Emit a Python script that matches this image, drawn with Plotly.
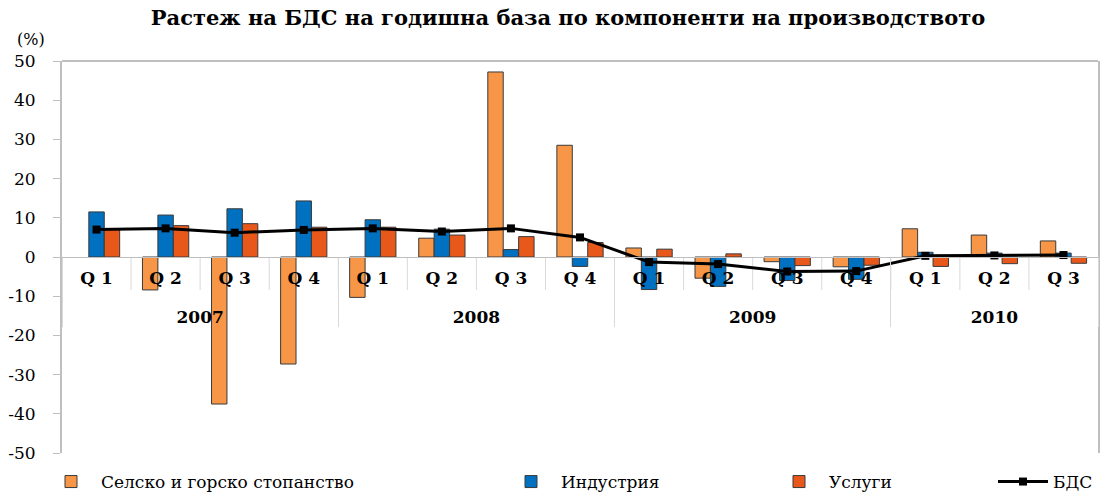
import plotly.graph_objects as go

years = ["2007"] * 4 + ["2008"] * 4 + ["2009"] * 4 + ["2010"] * 3
quarters = ["Q 1", "Q 2", "Q 3", "Q 4",
            "Q 1", "Q 2", "Q 3", "Q 4",
            "Q 1", "Q 2", "Q 3", "Q 4",
            "Q 1", "Q 2", "Q 3"]

agriculture = [None, -8.4, -37.5, -27.3, -10.3, 4.8, 47.2, 28.5, 2.3, -5.4, -1.2, -2.5, 7.2, 5.6, 4.1]
industry = [11.5, 10.7, 12.3, 14.3, 9.5, 7.1, 1.9, -2.4, -8.3, -7.5, -6.0, -5.7, 1.2, 1.0, 1.0]
services = [7.0, 8.0, 8.5, 7.6, 7.6, 5.6, 5.2, 3.7, 2.0, 0.8, -2.2, -2.1, -2.4, -1.7, -1.6]
gdp = [7.0, 7.3, 6.2, 6.9, 7.3, 6.5, 7.3, 5.0, -1.3, -1.8, -3.7, -3.6, 0.3, 0.4, 0.5]

y_tick_vals = [50, 40, 30, 20, 10, 0, -10, -20, -30, -40, -50]
y_tick_text = ["50", "40", "30", "20", "10", "0", "-10", "-20", "-30", "-40", "-50"]

FONT = "DejaVu Serif"
# year labels sit one line lower than the quarter labels
x = [["<br>" + y for y in years], quarters]
outline = dict(color="#3a3a3a", width=1)
n_cat = len(quarters)

fig = go.Figure()
fig.add_trace(go.Bar(x=x, y=agriculture, name="Селско и горско стопанство",
                     marker=dict(color="#F79646", line=outline), legend="legend"))
fig.add_trace(go.Bar(x=x, y=industry, name="Индустрия",
                     marker=dict(color="#0070C0", line=outline), legend="legend2"))
fig.add_trace(go.Bar(x=x, y=services, name="Услуги",
                     marker=dict(color="#E8581B", line=outline), legend="legend3"))
fig.add_trace(go.Scatter(x=x, y=gdp, name="БДС", mode="lines+markers",
                         line=dict(color="black", width=3),
                         marker=dict(symbol="square", size=8, color="black"),
                         legend="legend4"))

L, R, T, B = 62, 7, 61, 40
W, H = 1105, 493
pw = W - L - R
ph = H - T - B
y_range = [-50, 50]
units_per_px = (y_range[1] - y_range[0]) / ph

def px2x(p):
    return (p - L) / pw

# short separators between quarter labels, hanging 33 px below the zero line
sep_len = 33 * units_per_px
separators = [dict(type="line", xref="x", yref="y", x0=i + 0.5, x1=i + 0.5, y0=0, y1=-sep_len,
                   line=dict(color="#D9D9D9", width=1), layer="below")
              for i in range(n_cat - 1)]

leg_y = (H - B - 482) / ph
leg_common = dict(orientation="h", yanchor="middle", y=leg_y, xanchor="left",
                  font=dict(family=FONT, size=17, color="black"),
                  bgcolor="rgba(0,0,0,0)", itemwidth=50)

fig.update_layout(
    width=W, height=H,
    margin=dict(l=L, r=R, t=T, b=B, autoexpand=False),
    paper_bgcolor="white", plot_bgcolor="white",
    showlegend=True,
    barmode="group", bargap=0.33, bargroupgap=0,
    title=dict(text="<b>Растеж на БДС на годишна база по компоненти на производството</b>",
               x=568 / W, xanchor="center", y=1 - 18 / H, yanchor="middle",
               font=dict(family=FONT, size=21, color="black")),
    legend=dict(leg_common, x=px2x(41)),
    legend2=dict(leg_common, x=px2x(501)),
    legend3=dict(leg_common, x=px2x(769)),
    legend4=dict(leg_common, x=px2x(993)),
    xaxis=dict(type="multicategory", anchor="free", position=0.5,
               range=[-0.5, n_cat - 0.5],
               showline=True, linecolor="#BFBFBF", linewidth=1,
               ticks="", ticklabelstandoff=6,
               showdividers=True, dividercolor="#D9D9D9", dividerwidth=1,
               tickfont=dict(family=FONT, size=17, color="black", weight="bold"),
               showgrid=False, zeroline=False),
    yaxis=dict(range=y_range, tickvals=y_tick_vals, ticktext=y_tick_text,
               showline=True, linecolor="#BFBFBF", linewidth=2, mirror=True,
               ticks="outside", ticklen=7, tickcolor="#BFBFBF",
               tickfont=dict(family=FONT, size=17, color="black"),
               showgrid=False, zeroline=False, ticklabelstandoff=14),
    shapes=[dict(type="line", xref="paper", yref="paper", x0=0, x1=1, y0=1, y1=1,
                 line=dict(color="#BFBFBF", width=2))] + separators,
    annotations=[dict(text="(%)", xref="paper", yref="paper", x=px2x(31), y=(H - B - 40) / ph,
                      xanchor="center", yanchor="middle", showarrow=False,
                      font=dict(family=FONT, size=16, color="black"))],
)

fig.write_html("out.html", config={"displayModeBar": False},
               post_script="document.body.style.margin='0px';")
